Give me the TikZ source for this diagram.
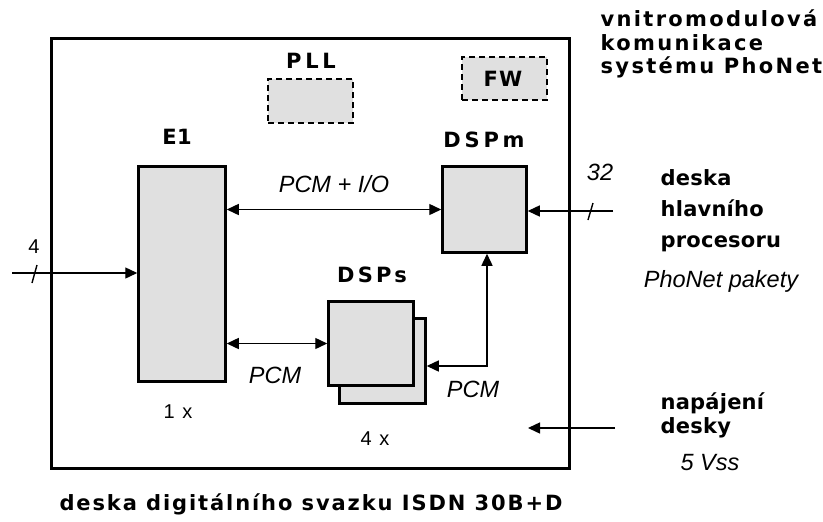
\documentclass[tikz,border=0pt]{standalone}
\usepackage{fontspec}
\setmainfont{Liberation Sans}
\newfontfamily\tucne{DejaVu Sans}
\usetikzlibrary{arrows.meta}
\definecolor{boxgray}{RGB}{224,224,224}
\tikzset{
	blok/.style={draw, line width=2.5pt, fill=boxgray, inner sep=0pt},
	tecka/.style={draw, dash pattern=on 6pt off 4pt, line width=1.2pt, fill=boxgray, inner sep=0pt},
	titul/.style={font=\tucne\bfseries\addfontfeature{LetterSpace=#1}\fontsize{21}{21}\selectfont, inner sep=0pt},
	titul/.default=18,
	pravy/.style={titul=1, anchor=base west},
	popis/.style={font=\itshape\fontsize{23.5}{23.5}\selectfont, inner sep=0pt},
	cislo/.style={font=\addfontfeature{LetterSpace=10}\fontsize{20}{20}\selectfont, inner sep=0pt},
}
\begin{document}
\begin{tikzpicture}[x=1pt, y=-1pt, >={Triangle[length=12pt,width=11pt]}, line width=1.4pt]
	\useasboundingbox (0,0) rectangle (823,522);
	% deska
	\node[draw, line width=3pt, minimum width=518pt, minimum height=430pt, inner sep=0pt] (deska) at (310.5,253.5) {};
	% bloky
	\node[blok, minimum width=87pt, minimum height=215pt] (e1) at (182,274) {};
	\node[blok, minimum width=84pt, minimum height=86pt] (dspm) at (484.5,209.5) {};
	\node[blok, minimum width=86pt, minimum height=85pt] (dspsb) at (382.5,361) {};
	\node[blok, minimum width=85pt, minimum height=84pt] (dsps) at (371,343.5) {};
	\node[tecka, minimum width=85pt, minimum height=44pt] (pll) at (310.5,101) {};
	\node[tecka, minimum width=85pt, minimum height=43pt] (fw) at (504.5,78.5) {};
	% nazvy
	\node[titul=5, anchor=base] (fwT) at (503,86) {FW};
	\node[titul, anchor=base] (pllT) at (311,68) {PLL};
	\node[titul=2, anchor=base] (e1T) at (177,144) {E1};
	\node[titul, anchor=base] (dspmT) at (484,147) {DSPm};
	\node[titul=15, anchor=base] (dspsT) at (372,282) {DSPs};
	\node[cislo, anchor=base] (e1N) at (178,418) {1 x};
	\node[cislo, anchor=base] (dspsN) at (375,445) {4 x};
	% spoje
	\draw[<->] (e1.east |- dspm.west) -- (dspm.west) node[popis, midway, anchor=base, yshift=17pt] (pcmio) {PCM + I/O};
	\draw[<->] (e1.east |- dsps.west) -- (dsps.west);
	\node[popis, anchor=base] (pcmA) at (275,383) {PCM};
	\draw[<->] ([yshift=-5pt]dspsb.east) -| ([xshift=2.5pt]dspm.south);
	\node[popis, anchor=base] (pcmB) at (473,397) {PCM};
	% vstupy
	\coordinate (in4) at (12,273);
	\coordinate (in32) at (613,211);
	\draw[->] (in4) -- (e1.west |- in4);
	\draw (32,283) -- (37,265);
	\node[cislo, anchor=base] (n4) at (34,253) {4};
	\draw[->] (in32) -- (dspm.east |- in32);
	\draw (588,220) -- (593,203);
	\node[popis, anchor=base] (n32) at (600,180) {32};
	\coordinate (pwr) at (615,428);
	\coordinate (pwrK) at (528,428);
	\draw[->] (pwr) -- (pwrK);
	% texty vpravo
	\node[titul=11, anchor=base west] (komA) at (600,27) {vnitromodulová};
	\node[titul=11, anchor=base west] (komB) at (600,50) {komunikace};
	\node[titul=11, anchor=base west] (komC) at (600,73) {systému PhoNet};
	\node[pravy] (hpA) at (660,185) {deska};
	\node[pravy] (hpB) at (660,216) {hlavního};
	\node[pravy] (hpC) at (660,247) {procesoru};
	\node[popis, anchor=base] (pakety) at (721,287) {PhoNet pakety};
	\node[pravy] (napA) at (660,409) {napájení};
	\node[pravy] (napB) at (660,433) {desky};
	\node[popis, anchor=base] (vss) at (710,470) {5 Vss};
	% popis desky
	\node[titul=9, anchor=base] (popisD) at (311,510) {deska digitálního svazku ISDN 30B+D};
\end{tikzpicture}
\end{document}
